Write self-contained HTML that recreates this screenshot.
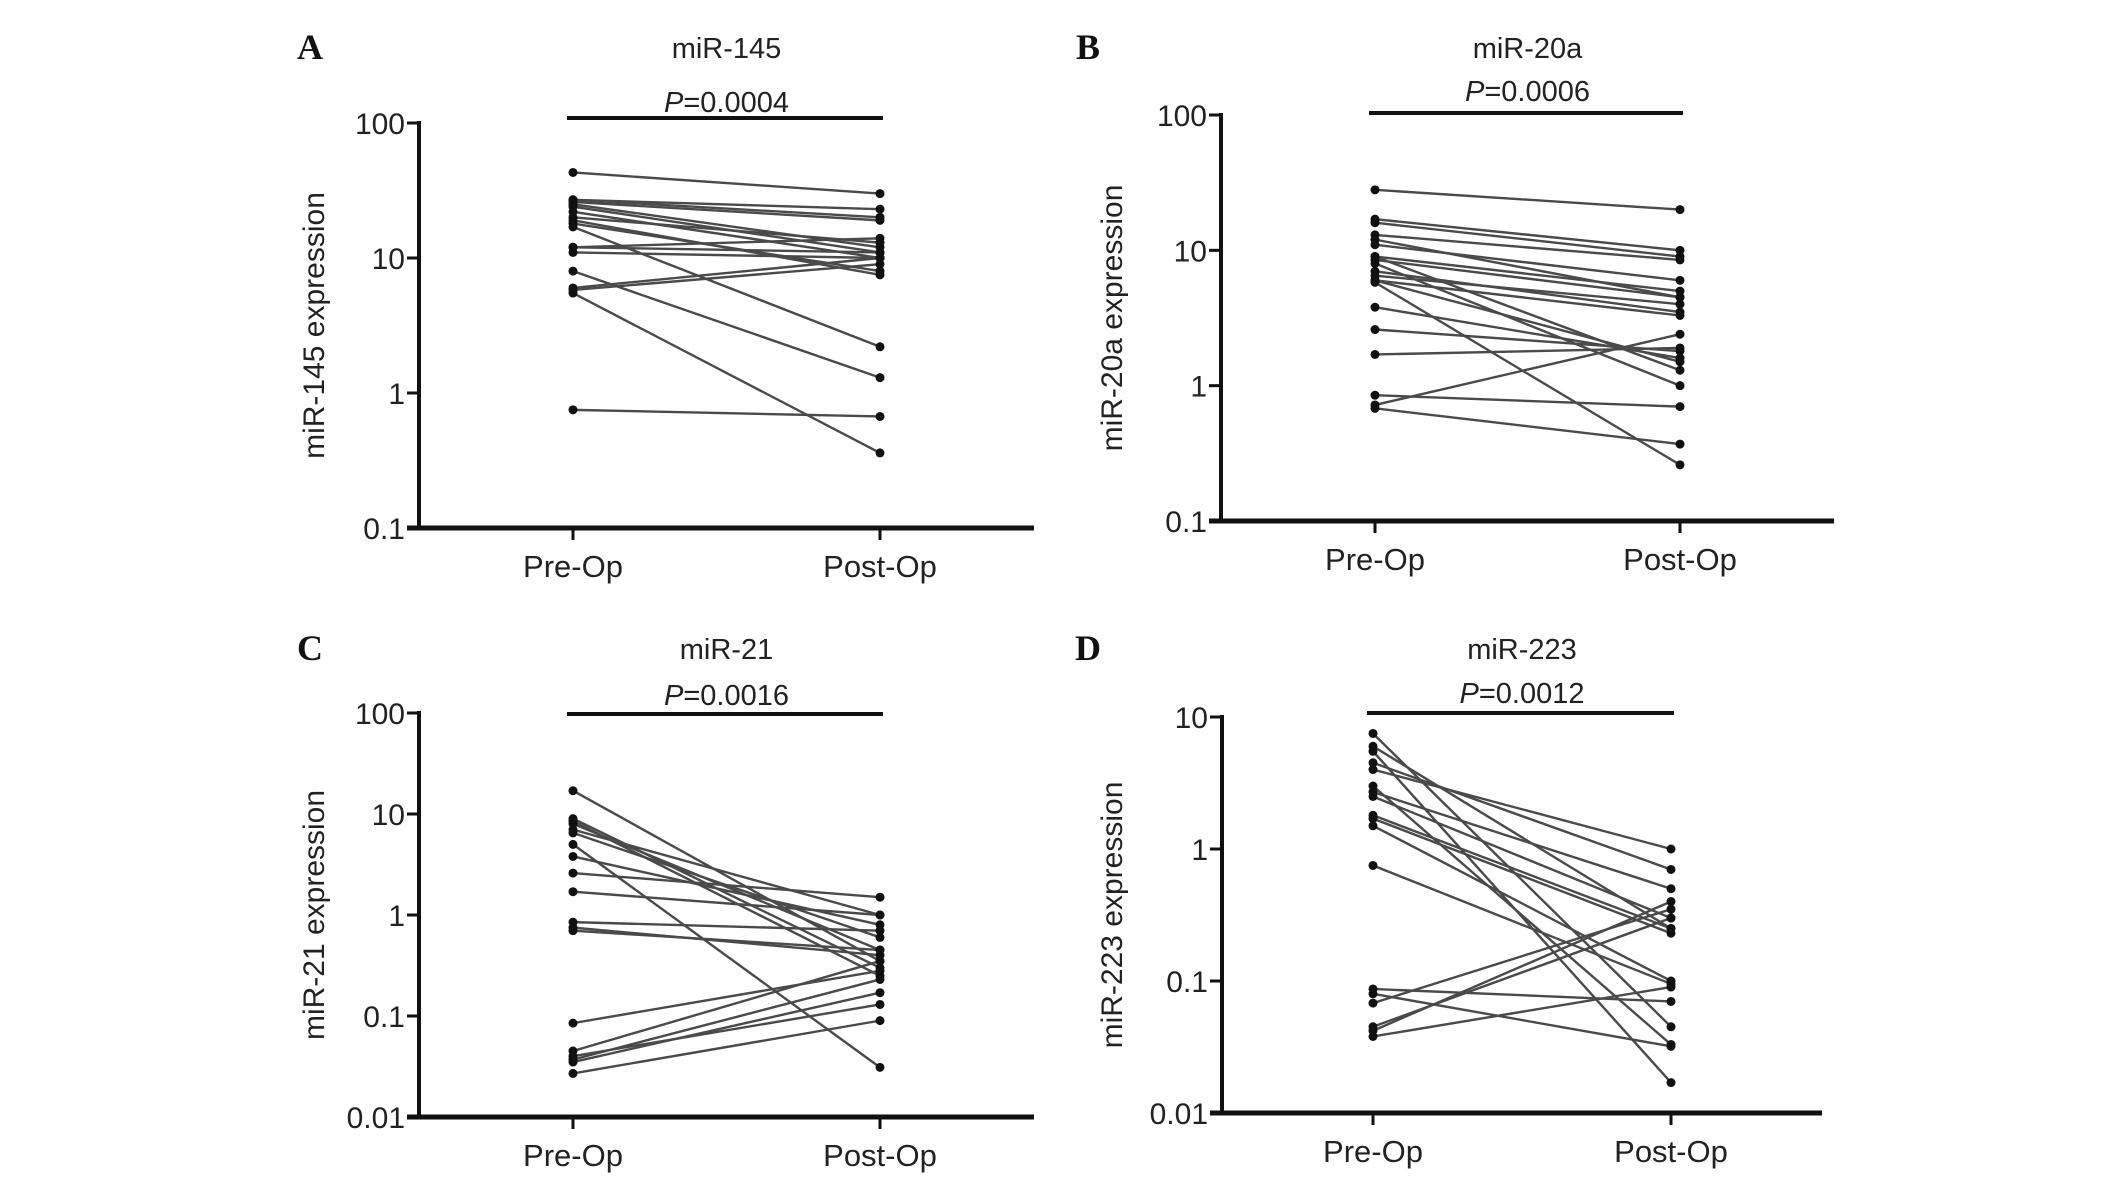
<!DOCTYPE html>
<html><head><meta charset="utf-8">
<style>
html,body{margin:0;padding:0;background:#fff;}
svg{display:block;}
text{font-family:"Liberation Sans",Arial,sans-serif;fill:#222;}
.lbl{font-family:"Liberation Serif",serif;font-weight:bold;fill:#111;}
</style></head>
<body>
<svg id="fig" width="2126" height="1180" viewBox="0 0 2126 1180"></svg>
<script>
const categories = ["Pre-Op","Post-Op"];
const aPre  = [43,27,27,26,25,24,22,20,19,18,17,12,12,11,8,6,5.8,5.5,0.75];
const aPost = [30,23,20,19,12,11,10,13,7.5,8,2.2,11,14,10,1.3,10,9,0.36,0.67];
const bPre  = [28,17,16,13,12,11,9,9,8.5,8,7,6.5,6,6,5.8,3.8,2.6,1.7,0.85,0.72,0.68];
const bPost = [20,10,9,8.5,4.5,6,5,1.3,4.5,1.0,3.5,4,3.3,1.5,0.26,1.6,1.8,1.9,0.7,2.4,0.37];
const cPre  = [17,9,8.5,8,7,6.5,5,3.8,2.6,1.7,0.85,0.75,0.7,0.085,0.045,0.04,0.037,0.035,0.027];
const cPost = [0.35,0.3,0.25,0.45,1.0,0.6,0.031,0.8,1.5,1.0,0.7,0.4,0.45,0.28,0.35,0.13,0.23,0.17,0.09];
const dPre  = [7.5,6,5.5,4.5,4,3,2.7,2.5,1.8,1.7,1.5,0.75,0.087,0.08,0.068,0.045,0.042,0.038];
const dPost = [0.045,0.25,0.017,0.7,1.0,0.033,0.5,0.3,0.25,0.23,0.1,0.095,0.07,0.032,0.35,0.3,0.4,0.09];
const aTicks = ["100","10","1","0.1"];
const bTicks = ["100","10","1","0.1"];
const cTicks = ["100","10","1","0.1","0.01"];
const dTicks = ["10","1","0.1","0.01"];

const NS="http://www.w3.org/2000/svg";
const svg=document.getElementById('fig');
function mk(tag,attrs,parent){const e=document.createElementNS(NS,tag);for(const k in attrs)e.setAttribute(k,attrs[k]);(parent||svg).appendChild(e);return e;}

function panel(p){
  const g=mk('g',{});
  
  
  const maxV=parseFloat(p.ticks[0]), minV=parseFloat(p.ticks[p.ticks.length-1]);
  const y=v=>p.top+(Math.log10(maxV)-Math.log10(v))/(Math.log10(maxV)-Math.log10(minV))*(p.bottom-p.top);
  const xs=[p.preX,p.postX];
  const L=mk('text',{x:p.lx,y:p.ty+12,'font-size':36,class:'lbl','text-anchor':'middle'},g);L.textContent=p.letter;
  
  const cx=(p.preX+p.postX)/2;
  const T=mk('text',{x:cx,y:p.ty+11,'font-size':29,'text-anchor':'middle'},g);T.textContent=p.title;
  
  const P=mk('text',{x:cx,y:p.py+11,'font-size':29,'text-anchor':'middle'},g);
  const pi=mk('tspan',{'font-style':'italic'},P);pi.textContent='P';
  const pv=mk('tspan',{},P);pv.textContent='='+p.pval;
  
  const br=mk('line',{x1:p.preX-6,x2:p.postX+3,y1:p.brY,y2:p.brY,stroke:'#111','stroke-width':4},g);
  
  const ya=mk('line',{x1:p.axX,x2:p.axX,y1:p.top-2,y2:p.bottom+2,stroke:'#111','stroke-width':4},g);
  
  const xa=mk('line',{x1:p.axX-12,x2:p.axEnd,y1:p.bottom,y2:p.bottom,stroke:'#111','stroke-width':5},g);
  
  p.ticks.forEach(t=>{
    const v=parseFloat(t),yy=y(v);
    const tl=mk('line',{x1:p.axX-12,x2:p.axX,y1:yy,y2:yy,stroke:'#111','stroke-width':3},g);
    
    const tt=mk('text',{x:p.axX-14,y:yy+11,'font-size':30,'text-anchor':'end'},g);tt.textContent=t;
    
  });
  categories.forEach((c,i)=>{
    const tl=mk('line',{x1:xs[i],x2:xs[i],y1:p.bottom,y2:p.bottom+12,stroke:'#111','stroke-width':3},g);
    
    const tt=mk('text',{x:xs[i],y:p.bottom+49,'font-size':31,'text-anchor':'middle'},g);tt.textContent=c;
    
  });
  const yt=mk('text',{x:0,y:0,'font-size':30,'text-anchor':'middle',transform:`translate(${p.ytx},${(p.top+p.bottom)/2}) rotate(-90)`},g);
  yt.textContent=p.ytitle;
  
  p.pre.forEach((v,i)=>{
    const w=p.post[i];
    const ln=mk('line',{x1:xs[0],y1:y(v),x2:xs[1],y2:y(w),stroke:'#4a4a4a','stroke-width':2.4},g);
    
  });
  p.pre.forEach((v,i)=>{
    const w=p.post[i];
    const d1=mk('circle',{cx:xs[0],cy:y(v),r:4.5,fill:'#111'},g);
    
    const d2=mk('circle',{cx:xs[1],cy:y(w),r:4.5,fill:'#111'},g);
    
  });
}
panel({letter:'A',title:'miR-145',pval:'0.0004',pre:aPre,post:aPost,ticks:aTicks,ytitle:'miR-145 expression',
  lx:310,ty:47,py:101,brY:118,axX:419,axEnd:1034,top:123,bottom:528,preX:573,postX:880,ytx:324});
panel({letter:'B',title:'miR-20a',pval:'0.0006',pre:bPre,post:bPost,ticks:bTicks,ytitle:'miR-20a expression',
  lx:1088,ty:47,py:90,brY:113,axX:1221,axEnd:1834,top:115,bottom:521,preX:1375,postX:1680,ytx:1122});
panel({letter:'C',title:'miR-21',pval:'0.0016',pre:cPre,post:cPost,ticks:cTicks,ytitle:'miR-21 expression',
  lx:310,ty:648,py:694,brY:714,axX:419,axEnd:1034,top:713,bottom:1117,preX:573,postX:880,ytx:324});
panel({letter:'D',title:'miR-223',pval:'0.0012',pre:dPre,post:dPost,ticks:dTicks,ytitle:'miR-223 expression',
  lx:1088,ty:648,py:692,brY:713,axX:1222,axEnd:1822,top:717,bottom:1113,preX:1373,postX:1671,ytx:1122});
</script>
</body></html>
